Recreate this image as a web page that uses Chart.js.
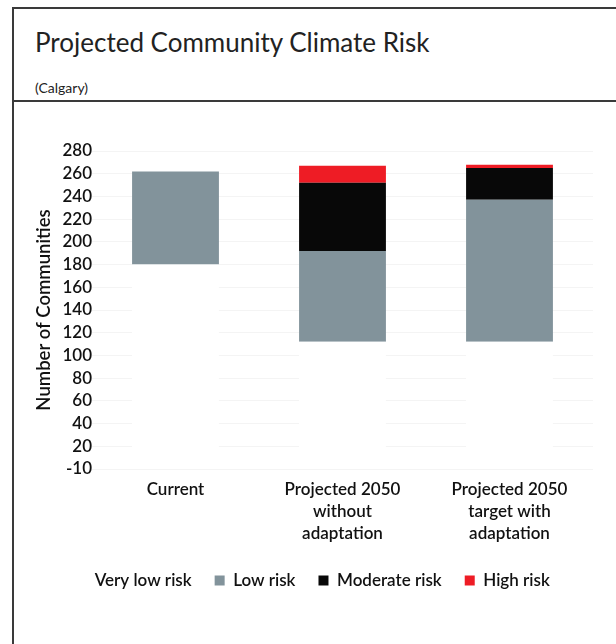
<!DOCTYPE html>
<html>
<head>
<meta charset="utf-8">
<script src="https://cdn.jsdelivr.net/npm/chart.js@4"></script>
<style>
  body { margin: 0; background: #fff; font-family: Lato, sans-serif; }
  .frame { position: absolute; left: 12px; top: 7px; width: 640px; height: 660px; border: 2px solid #3a3a3a; box-sizing: border-box; }
  .head { position: absolute; left: 0; top: 0; right: 0; height: 91px; border-bottom: 2px solid #3a3a3a; }
  .title { position: absolute; left: 21px; top: 17px; font-size: 26px; color: #222; }
  .sub { position: absolute; left: 21px; top: 70px; font-size: 14px; color: #222; }
  .wrap { position: absolute; left: 15px; top: 101px; width: 600px; height: 543px; }
</style>
</head>
<body>
<div class="frame">
  <div class="head">
    <div class="title">Projected Community Climate Risk</div>
    <div class="sub">(Calgary)</div>
  </div>
</div>
<div class="wrap"><canvas id="myChart" width="600" height="543"></canvas></div>
<script>
const categorias = [['Current'], ['Projected 2050', 'without', 'adaptation'], ['Projected 2050', 'target with', 'adaptation']];
const muyBajo = [180, 112, 112];
const bajo = [82, 80, 125];
const moderado = [0, 60, 28];
const alto = [0, 15, 3];
const etiquetasY = ['-10', '20', '40', '60', '80', '100', '120', '140', '160', '180', '200', '220', '240', '260', '280'];

const fuente = { family: 'Lato', size: 17, weight: '600', lineHeight: 1.3 };

//opciones comunes de las barras
const barra = { barPercentage: 0.52, categoryPercentage: 1 };

const cv = document.querySelector('#myChart').getContext('2d');
const myChart = new Chart(cv, {
    type: 'bar',
    data: {
        labels: categorias,
        datasets: [
            { label: 'Very low risk', data: muyBajo, backgroundColor: '#ffffff', ...barra },
            { label: 'Low risk', data: bajo, backgroundColor: '#82939b', ...barra },
            { label: 'Moderate risk', data: moderado, backgroundColor: '#080808', ...barra },
            { label: 'High risk', data: alto, backgroundColor: '#ee1c25', ...barra }
        ]
    },
    options: {
        responsive: false,
        animation: false,
        layout: { padding: { top: 50, right: 22, bottom: 45, left: 18 } },
        plugins: {
            tooltip: { enabled: false },
            legend: {
                position: 'bottom',
                labels: { boxWidth: 10, boxHeight: 10, color: '#111', font: fuente, padding: 23 }
            }
        },
        scales: {
            x: {
                stacked: true,
                grid: { display: false },
                border: { display: false },
                afterFit: (scale) => { scale.height = 80; },
                ticks: { color: '#111', font: fuente, maxRotation: 0, padding: 1 }
            },
            y: {
                stacked: true,
                min: 0,
                max: 280,
                grid: { color: '#f4f4f4', drawTicks: false },
                border: { display: false },
                afterFit: (scale) => { scale.width = 59; },
                title: { display: true, text: 'Number of Communities', color: '#111', font: { family: 'Lato', size: 18.5, weight: '600' }, padding: 0 },
                ticks: {
                    stepSize: 20,
                    autoSkip: false,
                    color: '#111',
                    font: fuente,
                    padding: 0,
                    callback: (v, i) => etiquetasY[i]
                }
            }
        }
    }
});
</script>
</body>
</html>
